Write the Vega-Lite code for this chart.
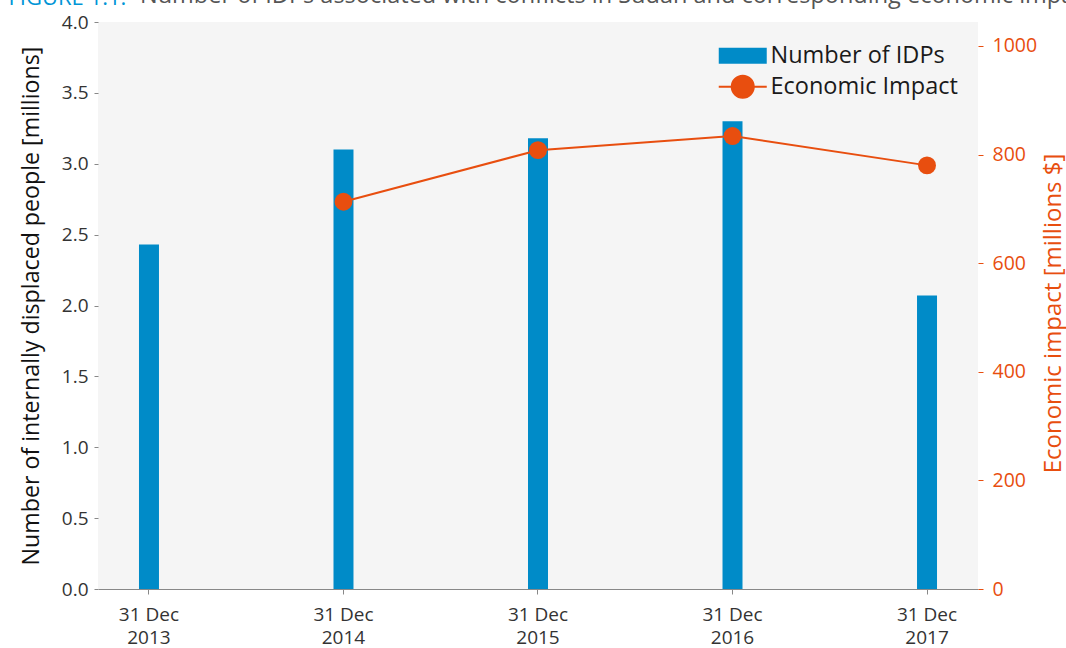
{
  "$schema": "https://vega.github.io/schema/vega-lite/v6.json",
  "autosize": "none",
  "width": 880,
  "height": 567,
  "padding": {"left": 98, "top": 22, "right": 88, "bottom": 59},
  "background": "white",
  "config": {
    "font": "Open Sans",
    "view": {"fill": "#f5f5f5", "stroke": null},
    "axis": {"grid": false}
  },
  "title": {
    "text": "Number of IDPs associated with conflicts in Sudan and corresponding economic impact",
    "anchor": "start",
    "frame": "group",
    "dx": 42,
    "dy": 40,
    "fontSize": 23.5,
    "fontWeight": "normal",
    "color": "#555555",
    "baseline": "alphabetic",
    "offset": 0
  },
  "data": {
    "values": [
      {"date": "31 Dec 2013", "idps": 2.43, "impact": null},
      {"date": "31 Dec 2014", "idps": 3.10, "impact": 713},
      {"date": "31 Dec 2015", "idps": 3.18, "impact": 808},
      {"date": "31 Dec 2016", "idps": 3.30, "impact": 834},
      {"date": "31 Dec 2017", "idps": 2.07, "impact": 780}
    ]
  },
  "layer": [
    {
      "mark": {"type": "bar"},
      "encoding": {
        "x": {
          "field": "date", "type": "nominal", "sort": null,
          "scale": {"paddingInner": 0.8972, "paddingOuter": 0.2107},
          "axis": {
            "orient": "bottom", "title": null, "labelAngle": 0,
            "labelFontSize": 19, "labelColor": "#333333",
            "tickSize": 5, "tickColor": "#888888", "domainColor": "#888888",
            "labelPadding": 11, "labelLineHeight": 23, "labelBaseline": "top",
            "labelExpr": "[slice(datum.label, 0, 6), slice(datum.label, 7)]"
          }
        },
        "y": {
          "field": "idps", "type": "quantitative",
          "scale": {"domain": [0, 4], "nice": false},
          "axis": {
            "values": [0, 0.5, 1, 1.5, 2, 2.5, 3, 3.5, 4], "format": ".1f",
            "domain": false, "tickSize": 4, "tickColor": "#888888",
            "labelPadding": 6, "labelFontSize": 19, "labelColor": "#333333",
            "title": "Number of internally displaced people [millions]",
            "titleFontSize": 23.2, "titleFontWeight": "normal", "titleColor": "#111111",
            "titleX": -67, "titleBaseline": "middle", "titleAngle": 270
          }
        },
        "color": {
          "datum": "Number of IDPs", "type": "nominal",
          "scale": {"domain": ["Number of IDPs", "Economic Impact"], "range": ["#008bc8", "#e84e0f"]},
          "legend": {
            "orient": "none", "legendX": 633, "legendY": 22,
            "title": null, "padding": 0, "symbolSize": 1024,
            "labelFontSize": 23.5, "labelColor": "#1a1a1a", "labelOffset": 16,
            "rowPadding": 3, "labelLimit": 300,
            "encode": {
              "symbols": {
                "update": {
                  "shape": {"signal": "datum.value === 'Number of IDPs' ? 'M-1.5,-0.5H1.5V0.5H-1.5Z' : 'M-1.5,0H-0.69A0.69,0.69 0 1 1 0.69,0H1.5M0.69,0A0.69,0.69 0 1 1 -0.69,0'"},
                  "fill": {"scale": "color", "field": "value"},
                  "stroke": {"scale": "color", "field": "value"},
                  "strokeWidth": {"signal": "datum.value === 'Number of IDPs' ? 0 : 2"},
                  "opacity": {"value": 1},
                  "fillOpacity": {"value": 1}
                }
              }
            }
          }
        }
      }
    },
    {
      "mark": {"type": "line", "strokeWidth": 2, "point": {"filled": true, "size": 320, "opacity": 1}},
      "encoding": {
        "x": {
          "field": "date", "type": "nominal", "sort": null,
          "axis": {
            "orient": "top", "labels": false, "ticks": false, "domain": false,
            "title": "FIGURE 1.1:", "titleColor": "#0095d6", "titleFontSize": 22,
            "titleFontWeight": "normal", "titleAnchor": "start", "titleAlign": "left",
            "titleX": -90, "titleY": -18, "titleBaseline": "alphabetic"
          }
        },
        "y": {
          "field": "impact", "type": "quantitative",
          "scale": {"domain": [0, 1044], "nice": false},
          "axis": {
            "orient": "right", "values": [0, 200, 400, 600, 800, 1000], "format": "d",
            "domain": false, "tickSize": 5, "tickColor": "#e84e0f",
            "labelPadding": 9, "labelFontSize": 19.5, "labelColor": "#e84e0f",
            "title": "Economic impact [millions $]",
            "titleFontSize": 24, "titleFontWeight": "normal", "titleColor": "#e84e0f",
            "titleAngle": 270, "titleX": 75, "titleY": 291, "titleBaseline": "middle"
          }
        },
        "color": {"datum": "Economic Impact", "type": "nominal"}
      }
    }
  ],
  "resolve": {"scale": {"y": "independent"}, "axis": {"x": "independent"}}
}
